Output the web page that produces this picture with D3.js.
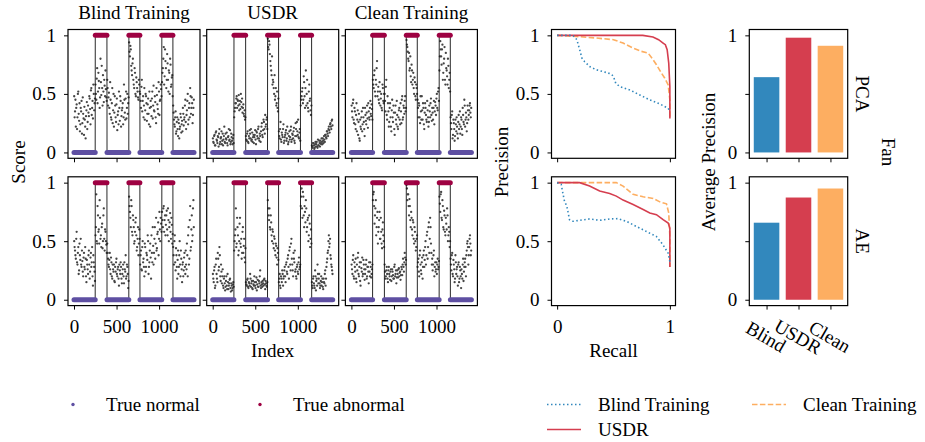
<!DOCTYPE html>
<html>
<head>
<meta charset="utf-8">
<script src="https://cdn.jsdelivr.net/npm/d3@7"></script>
<style>
    body { margin: 0; background: #fff; }
</style>
</head>
<body>
<svg id="fig" width="925" height="442"></svg>
<script>
// ---- Data ----

// ground truth runs along the sample index
const segStart = [0, 250, 388, 645, 775, 1032, 1163];
const segEnd = [249, 387, 644, 774, 1031, 1162, 1410];
const segLabel = [0, 1, 0, 1, 0, 1, 0];

// anomaly scores (percent), one list per run; "B" lists are the samples in between
const scoreBlindPca = [
    [48, 35, 22, 41, 30, 52, 27, 18, 38, 44, 25, 33, 15, 28, 12, 36, 20, 40, 31, 46, 24, 55, 38, 29, 50, 42],
    [58, 45, 72, 52, 61, 38, 80, 49, 55, 66, 43, 57, 70, 47],
    [62, 40, 51, 33, 45, 28, 55, 36, 22, 48, 30, 41, 19, 35, 52, 27, 44, 31, 38, 24, 58, 34, 46, 29, 50, 42],
    [94, 82, 88, 70, 76, 62, 55, 68, 48, 60, 52, 45, 58],
    [50, 38, 62, 44, 30, 55, 36, 48, 27, 41, 33, 52, 22, 39, 46, 29, 57, 35, 43, 25, 49, 37, 60, 32, 45, 54],
    [60, 72, 90, 65, 78, 55, 84, 62, 70, 50, 75, 58, 66],
    [40, 28, 22, 35, 18, 30, 14, 25, 20, 33, 17, 27, 38, 23, 30, 45, 20, 36, 50, 28, 42, 55, 33, 47, 25, 38]
];
const scoreBlindPcaB = [
    [30, 45, 38, 20, 50, 33, 42, 24, 35, 16, 47, 29, 39, 22, 31, 43, 26, 34, 48, 37, 53, 32, 44, 58, 36, 46],
    [50, 63, 42, 68, 55, 47, 60, 74, 40, 52, 62, 48, 54, 44],
    [55, 47, 38, 60, 30, 42, 25, 50, 34, 40, 26, 46, 32, 24, 38, 48, 22, 36, 42, 30, 45, 28, 52, 38, 33, 47],
    [86, 91, 74, 66, 80, 58, 72, 50, 64, 55, 47, 62, 52],
    [44, 56, 35, 48, 40, 28, 50, 42, 33, 46, 24, 38, 44, 31, 52, 40, 36, 48, 30, 55, 41, 33, 52, 44, 58, 48],
    [68, 80, 58, 88, 72, 62, 76, 52, 68, 80, 56, 64, 48],
    [34, 24, 30, 16, 26, 20, 28, 12, 22, 30, 24, 18, 33, 28, 40, 26, 32, 44, 24, 38, 30, 48, 38, 42, 32, 45]
];
const scoreUsdrPca = [
    [12, 8, 15, 6, 18, 10, 14, 5, 20, 9, 13, 7, 16, 11, 22, 8, 12, 17, 6, 14, 10, 19, 9, 13, 7, 15],
    [30, 38, 42, 48, 45, 40, 36, 44, 50, 39, 34, 41, 31, 28],
    [14, 10, 18, 8, 12, 16, 20, 11, 9, 15, 13, 19, 7, 17, 12, 22, 10, 14, 18, 25, 13, 28, 20, 32, 24, 30],
    [97, 88, 92, 78, 70, 82, 62, 55, 66, 48, 40, 52, 35],
    [18, 12, 26, 9, 15, 20, 8, 13, 17, 10, 22, 7, 14, 11, 19, 9, 16, 12, 21, 8, 25, 14, 18, 28, 12, 20],
    [40, 48, 55, 45, 60, 38, 70, 50, 42, 35, 58, 46, 32],
    [6, 4, 8, 3, 7, 5, 9, 4, 6, 10, 5, 8, 12, 7, 10, 14, 9, 15, 12, 18, 14, 22, 17, 25, 20, 28]
];
const scoreUsdrPcaB = [
    [9, 14, 6, 17, 11, 8, 13, 16, 7, 12, 18, 10, 6, 14, 9, 16, 11, 8, 13, 20, 11, 7, 16, 10, 12, 8],
    [35, 42, 46, 38, 44, 49, 41, 37, 43, 46, 38, 33, 36, 30],
    [11, 16, 9, 14, 19, 12, 10, 17, 13, 8, 15, 11, 18, 14, 20, 12, 16, 9, 22, 15, 19, 26, 16, 22, 28, 20],
    [90, 95, 84, 74, 66, 58, 60, 50, 45, 55, 42, 38, 46],
    [14, 20, 11, 17, 13, 24, 10, 15, 19, 12, 16, 9, 18, 13, 22, 11, 15, 18, 10, 14, 20, 26, 15, 13, 17, 10],
    [45, 52, 42, 65, 48, 55, 40, 62, 38, 52, 44, 36, 40],
    [5, 8, 6, 4, 9, 7, 5, 11, 6, 8, 10, 7, 9, 12, 8, 11, 15, 13, 18, 16, 20, 19, 24, 22, 27, 23]
];
const scoreCleanPca = [
    [40, 30, 45, 25, 35, 20, 42, 28, 15, 33, 10, 22, 30, 18, 38, 26, 14, 32, 24, 40, 21, 35, 28, 44, 31, 37],
    [62, 55, 70, 48, 58, 78, 52, 45, 60, 40, 50, 36, 55, 42],
    [50, 35, 62, 28, 42, 22, 38, 30, 18, 45, 26, 34, 15, 40, 24, 32, 20, 36, 28, 42, 25, 48, 30, 38, 44, 35],
    [96, 90, 80, 85, 72, 65, 75, 58, 68, 50, 60, 45, 55],
    [45, 30, 40, 25, 35, 48, 28, 38, 20, 42, 32, 26, 36, 22, 40, 30, 46, 27, 34, 38, 24, 43, 32, 50, 36, 55],
    [70, 95, 82, 88, 62, 76, 90, 58, 72, 65, 80, 55, 68],
    [30, 20, 35, 15, 25, 10, 28, 18, 22, 12, 32, 24, 16, 30, 20, 38, 26, 45, 22, 34, 18, 40, 28, 36, 42, 30]
];
const scoreCleanPcaB = [
    [35, 42, 28, 38, 24, 32, 18, 36, 26, 12, 28, 20, 35, 24, 30, 20, 38, 27, 34, 29, 42, 30, 38, 33, 41, 28],
    [58, 66, 52, 62, 72, 48, 56, 42, 52, 46, 38, 58, 44, 50],
    [44, 56, 32, 48, 35, 26, 42, 22, 36, 30, 40, 20, 34, 28, 44, 22, 30, 38, 24, 35, 45, 28, 40, 33, 48, 38],
    [92, 86, 78, 70, 82, 60, 70, 62, 55, 64, 48, 58, 50],
    [38, 42, 30, 48, 28, 36, 42, 24, 34, 38, 28, 44, 30, 26, 35, 42, 32, 38, 28, 44, 35, 40, 46, 38, 52, 44],
    [82, 88, 75, 92, 68, 80, 62, 85, 70, 58, 74, 62, 52],
    [25, 32, 12, 28, 20, 14, 24, 30, 16, 26, 20, 35, 22, 28, 15, 32, 24, 40, 28, 30, 25, 36, 32, 40, 34, 38]
];
const scoreBlindAe = [
    [50, 42, 35, 58, 30, 45, 25, 38, 52, 28, 33, 20, 40, 26, 35, 15, 30, 22, 42, 18, 36, 28, 45, 12, 32, 24],
    [55, 90, 48, 72, 60, 85, 52, 45, 65, 50, 78, 42, 58, 47],
    [48, 35, 28, 40, 22, 32, 18, 26, 30, 15, 24, 35, 20, 28, 12, 25, 32, 18, 22, 30, 14, 26, 38, 20, 28, 10],
    [88, 75, 62, 80, 55, 68, 48, 58, 70, 42, 52, 38, 60],
    [30, 42, 25, 50, 35, 20, 45, 28, 38, 55, 22, 32, 48, 18, 40, 62, 30, 52, 35, 70, 44, 58, 38, 75, 50, 65],
    [75, 62, 80, 68, 55, 72, 60, 78, 50, 66, 58, 70, 48],
    [45, 30, 55, 25, 38, 18, 42, 28, 50, 20, 35, 15, 32, 25, 40, 22, 30, 48, 20, 62, 35, 80, 45, 72, 55, 85]
];
const scoreBlindAeB = [
    [45, 38, 52, 32, 40, 22, 48, 34, 30, 42, 24, 36, 28, 45, 20, 34, 26, 38, 30, 24, 40, 32, 20, 38, 28, 16],
    [62, 50, 80, 58, 48, 70, 55, 62, 44, 72, 52, 60, 50, 40],
    [40, 30, 34, 26, 36, 20, 30, 24, 16, 28, 32, 22, 26, 18, 30, 22, 28, 14, 26, 20, 32, 24, 18, 30, 22, 16],
    [80, 70, 85, 58, 72, 62, 50, 66, 55, 45, 62, 48, 52],
    [38, 26, 45, 32, 28, 48, 24, 40, 34, 50, 28, 42, 36, 55, 32, 46, 40, 62, 48, 42, 56, 66, 52, 60, 70, 58],
    [68, 78, 58, 72, 64, 76, 55, 68, 62, 74, 52, 64, 56],
    [38, 50, 32, 44, 28, 34, 22, 38, 30, 42, 26, 30, 20, 36, 28, 42, 26, 38, 55, 30, 68, 42, 60, 50, 78, 62]
];
const scoreUsdrAe = [
    [22, 15, 28, 12, 35, 18, 40, 25, 45, 20, 30, 14, 26, 10, 20, 8, 16, 12, 22, 9, 14, 18, 7, 12, 10, 15],
    [42, 55, 78, 48, 62, 38, 50, 70, 45, 35, 58, 40, 52, 32],
    [15, 12, 18, 10, 14, 22, 11, 16, 9, 13, 20, 12, 15, 8, 17, 11, 14, 25, 10, 13, 16, 12, 18, 9, 14, 11],
    [85, 72, 78, 60, 66, 50, 58, 44, 52, 38, 46, 30, 40],
    [15, 22, 10, 18, 25, 12, 20, 28, 15, 32, 22, 38, 18, 45, 25, 52, 30, 20, 35, 42, 26, 18, 30, 22, 36, 28],
    [80, 95, 70, 88, 62, 75, 85, 58, 68, 50, 72, 45, 60],
    [15, 10, 20, 12, 25, 8, 18, 30, 14, 22, 10, 16, 12, 18, 9, 15, 22, 12, 28, 35, 42, 55, 48, 38, 30, 25]
];
const scoreUsdrAeB = [
    [18, 25, 10, 30, 22, 15, 35, 28, 38, 16, 24, 20, 12, 18, 14, 11, 20, 9, 15, 12, 17, 10, 14, 8, 13, 11],
    [50, 60, 45, 70, 55, 42, 65, 48, 52, 40, 62, 46, 36, 44],
    [13, 17, 11, 15, 12, 18, 14, 10, 16, 12, 15, 10, 19, 13, 11, 16, 20, 12, 15, 11, 14, 17, 13, 16, 12, 15],
    [78, 68, 62, 72, 55, 60, 48, 54, 42, 48, 36, 44, 34],
    [18, 12, 20, 15, 22, 18, 25, 20, 30, 24, 35, 28, 42, 30, 48, 35, 25, 40, 32, 24, 20, 28, 24, 32, 26, 30],
    [88, 78, 92, 72, 80, 66, 78, 62, 70, 55, 65, 52, 48],
    [12, 18, 14, 10, 20, 16, 12, 22, 18, 14, 12, 20, 15, 11, 18, 14, 25, 18, 32, 40, 50, 45, 52, 35, 28, 22]
];
const scoreCleanAe = [
    [30, 22, 38, 18, 28, 35, 15, 25, 40, 20, 32, 12, 27, 36, 22, 30, 17, 26, 34, 20, 28, 14, 24, 32, 19, 26],
    [85, 92, 65, 78, 55, 70, 48, 62, 75, 52, 58, 44, 66, 50],
    [30, 18, 25, 22, 15, 28, 20, 24, 16, 26, 21, 18, 30, 22, 14, 25, 19, 27, 23, 17, 28, 21, 35, 24, 40, 30],
    [98, 85, 90, 72, 80, 62, 70, 55, 66, 48, 58, 42, 52],
    [28, 35, 20, 42, 25, 32, 18, 38, 28, 45, 30, 55, 35, 62, 40, 70, 48, 30, 25, 38, 20, 32, 26, 22, 35, 28],
    [88, 75, 92, 68, 80, 60, 72, 55, 65, 78, 50, 62, 45],
    [35, 25, 40, 20, 30, 15, 38, 22, 28, 12, 32, 18, 25, 10, 22, 30, 16, 28, 35, 20, 42, 50, 30, 45, 55, 38]
];
const scoreCleanAeB = [
    [26, 34, 20, 32, 24, 18, 30, 36, 22, 28, 16, 32, 24, 20, 34, 26, 22, 30, 18, 28, 24, 32, 20, 28, 22, 30],
    [90, 80, 72, 85, 62, 75, 58, 68, 52, 70, 48, 60, 55, 45],
    [24, 20, 28, 18, 25, 22, 17, 26, 20, 24, 18, 28, 20, 25, 19, 22, 26, 20, 24, 21, 26, 30, 28, 32, 36, 34],
    [95, 90, 80, 86, 68, 75, 60, 68, 52, 62, 50, 45, 55],
    [32, 24, 38, 30, 22, 36, 28, 42, 34, 50, 38, 58, 45, 66, 52, 62, 40, 35, 30, 42, 28, 24, 32, 30, 26, 33],
    [82, 90, 70, 85, 62, 76, 58, 70, 60, 72, 55, 58, 50],
    [30, 38, 22, 34, 26, 18, 32, 26, 20, 30, 15, 28, 20, 26, 18, 35, 24, 32, 28, 38, 48, 45, 38, 52, 48, 42]
];

// precision-recall curves
const prPcaBlindR = [0, 0.14, 0.175, 0.2, 0.22, 0.243, 0.288, 0.347, 0.436, 0.48, 0.5, 0.52, 0.555, 0.644, 0.733, 0.822, 0.911, 0.985, 1.0];
const prPcaBlindP = [1, 1, 0.963, 0.877, 0.806, 0.777, 0.734, 0.706, 0.683, 0.669, 0.649, 0.591, 0.563, 0.534, 0.491, 0.449, 0.414, 0.377, 0.35];
const prPcaUsdrR = [0, 0.76, 0.85, 0.9, 0.94, 0.96, 0.976, 0.99, 1.0, 1.0];
const prPcaUsdrP = [1, 1, 0.986, 0.963, 0.934, 0.92, 0.877, 0.763, 0.563, 0.29];
const prPcaCleanR = [0, 0.17, 0.347, 0.5, 0.585, 0.674, 0.748, 0.807, 0.852, 0.881, 0.926, 0.955, 0.985, 1.0, 1.0];
const prPcaCleanP = [1, 0.991, 0.977, 0.963, 0.934, 0.891, 0.863, 0.849, 0.791, 0.749, 0.677, 0.634, 0.577, 0.449, 0.29];

const prAeBlindR = [0, 0.036, 0.05, 0.065, 0.086, 0.11, 0.14, 0.2, 0.288, 0.377, 0.466, 0.54, 0.614, 0.703, 0.792, 0.881, 0.94, 0.985, 1.0];
const prAeBlindP = [1, 0.986, 0.914, 0.842, 0.799, 0.684, 0.67, 0.678, 0.69, 0.678, 0.69, 0.693, 0.67, 0.626, 0.583, 0.54, 0.468, 0.397, 0.325];
const prAeUsdrR = [0, 0.2, 0.288, 0.377, 0.466, 0.525, 0.585, 0.674, 0.763, 0.822, 0.881, 0.94, 0.985, 1.0, 1.0];
const prAeUsdrP = [1, 1, 0.971, 0.928, 0.908, 0.885, 0.851, 0.813, 0.77, 0.741, 0.727, 0.684, 0.655, 0.612, 0.28];
const prAeCleanR = [0, 0.525, 0.585, 0.674, 0.763, 0.852, 0.911, 0.97, 0.99, 1.0, 1.0];
const prAeCleanP = [1, 1, 0.971, 0.9, 0.879, 0.865, 0.836, 0.819, 0.741, 0.54, 0.28];

// average precision bars
const methods = ['Blind', 'USDR', 'Clean'];
const apPca = [0.643, 0.98, 0.911];
const apAe = [0.658, 0.873, 0.95];

const scatterTitles = ['Blind Training', 'USDR', 'Clean Training'];
const rowNames = ['PCA', 'AE'];
const indexTicks = [0, 500, 1000];

// ---- Layout ----
const FONT = '"Liberation Serif", "Times New Roman", serif';
const FS = 19;
const colNormal = '#5e4fa2';
const colAbnormal = '#9e0142';
const colBlind = '#3288bd';
const colUsdr = '#d53e4f';
const colClean = '#fdae61';

const rowTop = [29.5, 176.8];
const rowH = 128.8;
const scatterLeft = [68, 206.7, 345.4];
const scatterW = 132;
const prLeft = 551.5, prW = 124;
const barLeft = 749.3, barW = 98.4;

const svg = d3.select('#fig');

const y = d3.scaleLinear().domain([-0.05, 1.05]).range([rowH, 0]);
const xIdx = d3.scaleLinear().domain([-70.5, 1480.5]).range([0, scatterW]);
const xRec = d3.scaleLinear().domain([-0.05, 1.05]).range([0, prW]);
const xBar = d3.scaleLinear().domain([-0.54, 2.54]).range([0, barW]);

function styleAxis(g) {
    g.attr('font-family', FONT).attr('font-size', FS);
    g.select('.domain').remove();
    g.selectAll('.tick line').attr('stroke', '#000').attr('stroke-width', 1);
    g.selectAll('.tick text').attr('fill', '#000');
}

function addYAxis(g, withLabels, skipMid) {
    const ax = d3.axisLeft(y)
        .tickValues([0, 0.5, 1])
        .tickSize(4)
        .tickPadding(8)
        .tickFormat(d => !withLabels ? '' : (d === 0.5 ? (skipMid ? '' : '0.5') : d));
    g.append('g').call(ax).call(styleAxis);
}

function addXAxis(g, scale, ticks, withLabels, fmt) {
    const ax = d3.axisBottom(scale)
        .tickValues(ticks)
        .tickSize(4)
        .tickPadding(10)
        .tickFormat(d => withLabels ? (fmt ? fmt(d) : d) : '');
    return g.append('g')
        .attr('transform', `translate(0, ${rowH})`)
        .call(ax)
        .call(styleAxis);
}

function frame(g, w) {
    g.append('rect')
        .attr('width', w)
        .attr('height', rowH)
        .attr('fill', 'none')
        .attr('stroke', '#000')
        .attr('stroke-width', 1.2);
}

// ---- Score panels ----
const scoreGrid = [
    [[scoreBlindPca, scoreBlindPcaB], [scoreUsdrPca, scoreUsdrPcaB], [scoreCleanPca, scoreCleanPcaB]],
    [[scoreBlindAe, scoreBlindAeB], [scoreUsdrAe, scoreUsdrAeB], [scoreCleanAe, scoreCleanAeB]]
];

scoreGrid.forEach((row, r) => {
    row.forEach((pair, c) => {
        const g = svg.append('g')
            .attr('transform', `translate(${scatterLeft[c]}, ${rowTop[r]})`);

        // spread each run's scores over its sample range
        const pts = [];
        pair.forEach((scores, half) => {
            scores.forEach((vals, s) => {
                vals.forEach((v, j) => {
                    pts.push({
                        idx: segStart[s] + (segEnd[s] - segStart[s]) * (j + 0.25 + half * 0.5) / vals.length,
                        v: v / 100
                    });
                });
            });
        });

        g.selectAll('circle.score')
            .data(pts)
            .enter()
            .append('circle')
            .attr('class', 'score')
            .attr('cx', d => xIdx(d.idx))
            .attr('cy', d => y(d.v))
            .attr('r', 1.15)
            .attr('fill', '#444');

        // ground truth step line
        const stepPts = [];
        segStart.forEach((s, i) => {
            stepPts.push([s, segLabel[i]]);
            stepPts.push([segEnd[i], segLabel[i]]);
        });
        g.append('path')
            .attr('d', d3.line().x(d => xIdx(d[0])).y(d => y(d[1]))(stepPts))
            .attr('fill', 'none')
            .attr('stroke', '#111')
            .attr('stroke-width', 0.9);

        // true normal / abnormal markers
        g.selectAll('line.lab')
            .data(segStart.map((s, i) => ({ s: s, e: segEnd[i], l: segLabel[i] })))
            .enter()
            .append('line')
            .attr('class', 'lab')
            .attr('x1', d => xIdx(d.s))
            .attr('x2', d => xIdx(d.e))
            .attr('y1', d => y(d.l))
            .attr('y2', d => y(d.l))
            .attr('stroke', d => d.l ? colAbnormal : colNormal)
            .attr('stroke-width', 5)
            .attr('stroke-linecap', 'round');

        addYAxis(g, c === 0, false);
        addXAxis(g, xIdx, indexTicks, r === 1);
        frame(g, scatterW);

        if (r === 0) {
            g.append('text')
                .attr('x', scatterW / 2)
                .attr('y', -10.5)
                .attr('text-anchor', 'middle')
                .attr('font-family', FONT)
                .attr('font-size', FS)
                .text(scatterTitles[c]);
        }
    });
});

// ---- Precision-recall panels ----
const prRows = [
    [[prPcaBlindR, prPcaBlindP], [prPcaUsdrR, prPcaUsdrP], [prPcaCleanR, prPcaCleanP]],
    [[prAeBlindR, prAeBlindP], [prAeUsdrR, prAeUsdrP], [prAeCleanR, prAeCleanP]]
];
const prStyles = [
    { color: colBlind, dash: '1.5,2.5' },
    { color: colUsdr, dash: null },
    { color: colClean, dash: '5.5,2.4' }
];

prRows.forEach((curves, r) => {
    const g = svg.append('g')
        .attr('transform', `translate(${prLeft}, ${rowTop[r]})`);

    const line = d3.line().x(d => xRec(d[0])).y(d => y(d[1]));
    // draw clean first, blind on top, like the picture
    [2, 1, 0].forEach(k => {
        const [rec, prec] = curves[k];
        g.append('path')
            .attr('d', line(rec.map((v, i) => [v, prec[i]])))
            .attr('fill', 'none')
            .attr('stroke', prStyles[k].color)
            .attr('stroke-width', 1.6)
            .attr('stroke-dasharray', prStyles[k].dash);
    });

    addYAxis(g, true, false);
    addXAxis(g, xRec, [0, 1], r === 1);
    frame(g, prW);
});

// ---- Average precision bars ----
const barColors = [colBlind, colUsdr, colClean];
[apPca, apAe].forEach((vals, r) => {
    const g = svg.append('g')
        .attr('transform', `translate(${barLeft}, ${rowTop[r]})`);

    g.selectAll('rect.bar')
        .data(vals)
        .enter()
        .append('rect')
        .attr('class', 'bar')
        .attr('x', (d, i) => xBar(i - 0.4))
        .attr('width', xBar(0.8) - xBar(0))
        .attr('y', d => y(d))
        .attr('height', d => y(0) - y(d))
        .attr('fill', (d, i) => barColors[i]);

    addYAxis(g, true, true);
    const xa = addXAxis(g, xBar, [0, 1, 2], r === 1, i => methods[i]);
    if (r === 1) {
        xa.selectAll('.tick text')
            .attr('y', 0)
            .attr('dy', '0.35em')
            .attr('transform', 'translate(-1, 31) rotate(30)');
    }
    frame(g, barW);

    // row name on the right
    svg.append('text')
        .attr('transform', `translate(862.5, ${rowTop[r] + rowH / 2}) rotate(90)`)
        .attr('text-anchor', 'middle')
        .attr('dominant-baseline', 'central')
        .attr('font-family', FONT)
        .attr('font-size', FS)
        .text(rowNames[r]);
});

// ---- Axis labels ----
function label(txt, x0, y0, rot) {
    svg.append('text')
        .attr('transform', `translate(${x0}, ${y0}) rotate(${rot})`)
        .attr('text-anchor', 'middle')
        .attr('dominant-baseline', 'central')
        .attr('font-family', FONT)
        .attr('font-size', FS)
        .text(txt);
}
label('Score', 18, 162, -90);
label('Precision', 501, 162, -90);
label('Average Precision', 708, 162, -90);
label('Fan', 888, 152, 90);
label('Index', scatterLeft[1] + scatterW / 2, 350, 0);
label('Recall', prLeft + prW / 2, 350, 0);

// ---- Legends ----
const dotLegend = [
    { name: 'True normal', color: colNormal, x: 73 },
    { name: 'True abnormal', color: colAbnormal, x: 260 }
];
dotLegend.forEach(d => {
    svg.append('circle')
        .attr('cx', d.x).attr('cy', 404.5).attr('r', 1.7)
        .attr('fill', d.color);
    svg.append('text')
        .attr('x', d.x + 33).attr('y', 411)
        .attr('font-family', FONT).attr('font-size', FS)
        .text(d.name);
});

const lineLegend = [
    { name: 'Blind Training', k: 0, x: 547, y: 404.5 },
    { name: 'USDR', k: 1, x: 547, y: 429.5 },
    { name: 'Clean Training', k: 2, x: 752, y: 404.5 }
];
lineLegend.forEach(d => {
    svg.append('line')
        .attr('x1', d.x).attr('x2', d.x + 34)
        .attr('y1', d.y).attr('y2', d.y)
        .attr('stroke', prStyles[d.k].color)
        .attr('stroke-width', 1.6)
        .attr('stroke-dasharray', prStyles[d.k].dash);
    svg.append('text')
        .attr('x', d.x + 51).attr('y', d.y + 6.5)
        .attr('font-family', FONT).attr('font-size', FS)
        .text(d.name);
});
</script>
</body>
</html>
